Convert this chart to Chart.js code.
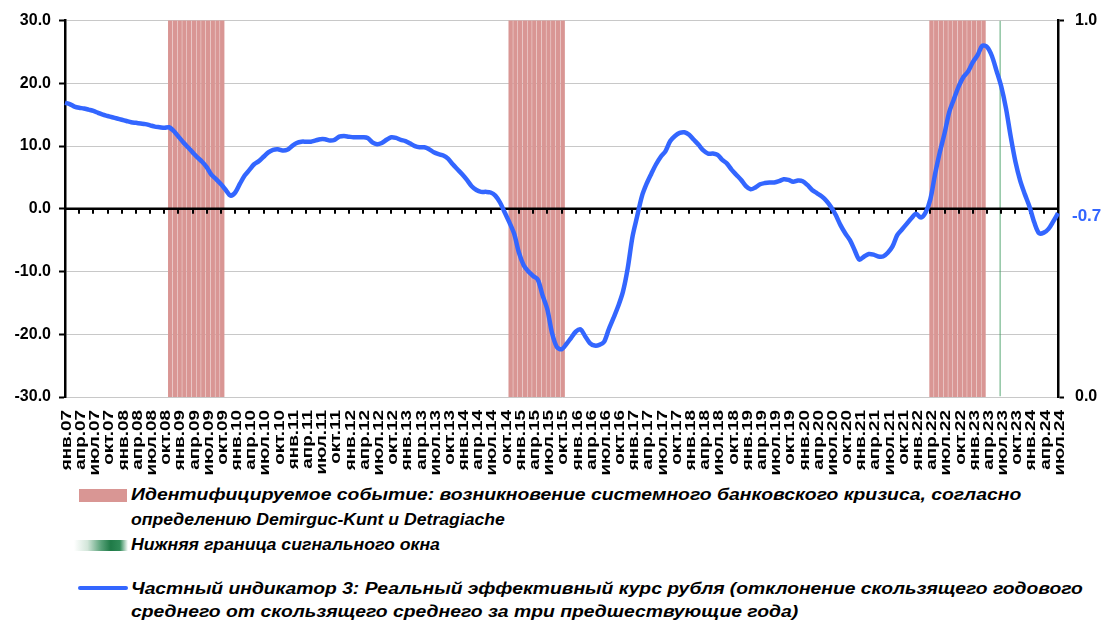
<!DOCTYPE html>
<html>
<head>
<meta charset="utf-8">
<script src="https://cdn.jsdelivr.net/npm/chart.js@4.4.1/dist/chart.umd.min.js"></script>
<style>
  body { margin: 0; width: 1112px; height: 623px; background: #fff; overflow: hidden; position: relative; }
  #wrap { position: absolute; left: 0; top: 0; width: 1112px; height: 485px; }
  .sw { position: absolute; }
  .tx { position: absolute; left: 131px; white-space: nowrap; transform-origin: 0 50%;
        font: italic bold 16px "Liberation Sans", Arial, sans-serif; line-height: 18px; color: #000; }
</style>
</head>
<body>
<div id="wrap"><canvas id="chart"></canvas></div>

<!-- legend -->
<div class="sw" style="left:79px;top:489px;width:48px;height:13px;background:#d99694;"></div>
<div class="tx" style="top:486px" data-w="890">Идентифицируемое событие: возникновение системного банковского кризиса, согласно</div>
<div class="tx" style="top:511px" data-w="374">определению Demirguc-Kunt и Detragiache</div>
<div class="sw" style="left:74px;top:540px;width:54px;height:11px;background:linear-gradient(to right,#fff 0%,#d3e6da 25%,#5aa27a 50%,#1f7a47 68%,#2f8a57 85%,#fff 100%);"></div>
<div class="tx" style="top:536px" data-w="309">Нижняя граница сигнального окна</div>
<div class="sw" style="left:78px;top:586px;width:50px;height:4px;border-radius:2px;background:#3366ff;"></div>
<div class="tx" style="top:580px" data-w="952">Частный индикатор 3: Реальный эффективный курс рубля (отклонение скользящего годового</div>
<div class="tx" style="top:603px" data-w="667">среднего от скользящего среднего за три предшествующие года)</div>

<script>
// ------------ DATA ------------

const monthNames = ['янв', 'фев', 'мар', 'апр', 'май', 'июн', 'июл', 'авг', 'сен', 'окт', 'ноя', 'дек'];
const firstYear = 2007;
const lastLabel = 'июл.24';

// monthly values, янв.07 .. июл.24
const rerDeviation = [
  16.9, 16.7, 16.3, 16.1, 16.0, 15.8, 15.6, 15.3, 15.0, 14.8, 14.6, 14.4,
  14.2, 14.0, 13.8, 13.7, 13.6, 13.5, 13.3, 13.1, 13.0, 12.9, 13.0, 12.4,
  11.5, 10.6, 9.8, 9.0, 8.2, 7.5, 6.6, 5.4, 4.7, 3.9, 3.0, 2.1,
  2.6, 4.0, 5.3, 6.2, 7.1, 7.6, 8.3, 9.0, 9.4, 9.5, 9.3, 9.4,
  10.0, 10.5, 10.7, 10.7, 10.7, 10.9, 11.1, 11.1, 10.9, 11.0, 11.5, 11.6,
  11.5, 11.4, 11.4, 11.4, 11.3, 10.6, 10.3, 10.5, 11.0, 11.4, 11.3, 11.0,
  10.8, 10.4, 10.0, 9.8, 9.8, 9.5, 9.0, 8.7, 8.5, 8.0, 7.1, 6.3,
  5.5, 4.6, 3.6, 3.0, 2.7, 2.7, 2.6, 2.1, 1.0, -0.6, -2.2, -4.0,
  -7.0, -9.0, -10.0, -10.7, -11.3, -13.8, -16.0, -19.8, -22.0, -22.4, -21.6, -20.6,
  -19.6, -19.2, -20.3, -21.4, -21.8, -21.7, -21.2, -19.2, -17.4, -15.5, -13.2, -9.5,
  -4.5, -1.2, 2.0, 4.0, 5.6, 7.1, 8.3, 9.2, 10.8, 11.6, 12.1, 12.2,
  11.8, 11.0, 10.2, 9.3, 8.8, 8.8, 8.6, 7.8, 7.2, 6.2, 5.4, 4.6,
  3.6, 3.1, 3.4, 3.9, 4.1, 4.2, 4.2, 4.4, 4.7, 4.6, 4.3, 4.5,
  4.4, 3.8, 3.0, 2.5, 2.0, 1.3, 0.3, -1.0, -2.6, -3.9, -5.0, -6.6,
  -8.1, -7.6, -7.2, -7.3, -7.6, -7.6, -7.0, -6.0, -4.2, -3.3, -2.4, -1.5,
  -0.8, -1.4, -0.6, 1.5, 5.5, 9.0, 12.0, 15.4, 17.5, 19.5, 21.0, 21.9,
  23.4, 24.5, 26.0, 25.8, 24.4, 22.0, 19.5, 16.0, 11.5, 7.5, 4.5, 2.3,
  0.3, -2.2, -3.9, -3.8, -3.2, -2.0, -0.7
];

// systemic banking crisis periods (first and last month)
const crisisStart = ['ноя.08', 'ноя.14', 'апр.22'];
const crisisEnd   = ['окт.09', 'окт.15', 'мар.23'];
// lower bound of the signal window
const signalMonth = 'июл.23';

const leftTicks = [-30, -20, -10, 0, 10, 20, 30];
const rightTicks = [0, 1];

// ------------ BUILD ------------

const labels = [];
for (let y = firstYear; labels[labels.length - 1] !== lastLabel; y++) {
  for (let m = 0; m < 12 && labels[labels.length - 1] !== lastLabel; m++) {
    labels.push(monthNames[m] + '.' + String(y % 100).padStart(2, '0'));
  }
}

const crisisBars = labels.map((l, i) => {
  for (let k = 0; k < crisisStart.length; k++) {
    if (i >= labels.indexOf(crisisStart[k]) && i <= labels.indexOf(crisisEnd[k])) return 1;
  }
  return null;
});
const signalBars = labels.map(l => l === signalMonth ? 1 : null);

const FONT = '"Liberation Sans", Arial, sans-serif';
const BLUE = '#3366ff';

// zero line with small ticks, drawn over the bars but under the line
const zeroLinePlugin = {
  id: 'zeroLine',
  beforeDatasetDraw(chart, args) {
    if (args.index !== 0) return;
    const { ctx, chartArea, scales } = chart;
    const y0 = scales.y.getPixelForValue(0);
    ctx.save();
    ctx.strokeStyle = '#000';
    ctx.lineWidth = 2.5;
    ctx.beginPath();
    ctx.moveTo(chartArea.left, y0);
    ctx.lineTo(chartArea.right, y0);
    ctx.stroke();
    ctx.lineWidth = 2;
    ctx.beginPath();
    for (let i = 0; i < labels.length; i += 3) {
      const x = Math.round(scales.x.getPixelForValue(i));
      ctx.moveTo(x, y0);
      ctx.lineTo(x, y0 + 5);
    }
    ctx.stroke();
    ctx.restore();
  }
};

// rotated quarterly labels + value label of the last point
const labelsPlugin = {
  id: 'labelsPlugin',
  afterDraw(chart) {
    const { ctx, chartArea, scales } = chart;
    ctx.save();
    ctx.fillStyle = '#000';
    ctx.font = 'bold 14px ' + FONT;
    ctx.textAlign = 'right';
    ctx.textBaseline = 'middle';
    for (let i = 0; i < labels.length; i += 3) {
      const x = scales.x.getPixelForValue(i) + 2;
      ctx.save();
      ctx.translate(x, chartArea.bottom + 13);
      ctx.rotate(-Math.PI / 2);
      ctx.scale(1.35, 1);
      ctx.fillText(labels[i], 0, 0);
      ctx.restore();
    }
    const last = rerDeviation[rerDeviation.length - 1];
    ctx.fillStyle = BLUE;
    ctx.font = 'bold 17px ' + FONT;
    ctx.textAlign = 'left';
    ctx.fillText(last.toFixed(1), chartArea.right + 14, scales.y.getPixelForValue(last) + 3);
    ctx.restore();
  }
};

const config = {
  data: {
    labels: labels,
    datasets: [
      {
        type: 'line',
        label: 'Частный индикатор 3',
        data: rerDeviation,
        yAxisID: 'y',
        borderColor: BLUE,
        borderWidth: 4.5,
        pointRadius: 0,
        tension: 0.3,
        order: 0
      },
      {
        type: 'bar',
        label: 'Нижняя граница сигнального окна',
        data: signalBars,
        yAxisID: 'y1',
        backgroundColor: 'rgba(255,255,255,0)',
        borderColor: '#3c9a5f',
        borderWidth: { left: 1, right: 1, top: 0, bottom: 0 },
        barPercentage: 0.55,
        categoryPercentage: 1,
        inflateAmount: 0,
        order: 1
      },
      {
        type: 'bar',
        label: 'Идентифицируемое событие',
        data: crisisBars,
        yAxisID: 'y1',
        backgroundColor: '#d99694',
        barPercentage: 1,
        categoryPercentage: 1,
        inflateAmount: 1,
        order: 2
      }
    ]
  },
  options: {
    responsive: true,
    maintainAspectRatio: false,
    animation: false,
    layout: { padding: { top: 11, left: 0, right: 0, bottom: 0 } },
    plugins: {
      legend: { display: false },
      tooltip: { enabled: false }
    },
    scales: {
      x: {
        type: 'category',
        offset: false,
        grid: { display: false },
        border: { display: false },
        ticks: { display: false },
        afterFit(scale) { scale.height = 88; }
      },
      y: {
        position: 'left',
        min: -30,
        max: 30,
        afterBuildTicks(scale) { scale.ticks = leftTicks.map(v => ({ value: v })); },
        afterFit(scale) { scale.width = 65; },
        grid: {
          color: ctx => ctx.tick && ctx.tick.value === 0 ? 'rgba(0,0,0,0)' : '#c8c8c8',
          lineWidth: 1,
          tickColor: '#000',
          tickLength: 6,
          tickWidth: 2
        },
        border: { color: '#000', width: 2.5 },
        ticks: {
          color: '#000',
          font: { family: FONT, size: 16, weight: 'bold' },
          padding: 8,
          callback: v => v.toFixed(1)
        }
      },
      y1: {
        position: 'right',
        min: 0,
        max: 1,
        afterBuildTicks(scale) { scale.ticks = rightTicks.map(v => ({ value: v })); },
        afterFit(scale) { scale.width = 54; },
        grid: { drawOnChartArea: false, tickColor: '#000', tickLength: 6, tickWidth: 2 },
        border: { color: '#000', width: 2.5 },
        ticks: {
          color: '#000',
          font: { family: FONT, size: 16, weight: 'bold' },
          padding: 11,
          callback: v => v.toFixed(1)
        }
      }
    }
  },
  plugins: [zeroLinePlugin, labelsPlugin]
};

new Chart(document.getElementById('chart').getContext('2d'), config);

// stretch the legend lines to the width they take in the source figure
document.querySelectorAll('.tx').forEach(el => {
  const w = el.getBoundingClientRect().width;
  el.style.transform = 'scaleX(' + (+el.dataset.w / w).toFixed(3) + ')';
});
</script>
</body>
</html>
